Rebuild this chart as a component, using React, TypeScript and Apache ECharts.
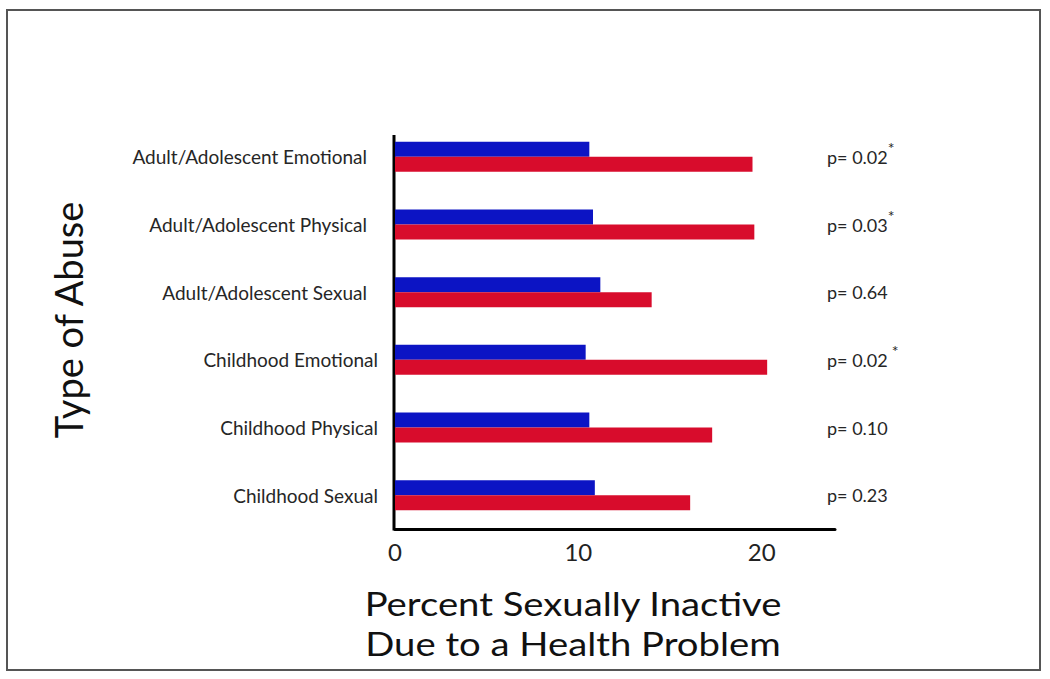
import React, { useEffect, useRef } from "react";
import * as echarts from "echarts";

const categories = [
  "Adult/Adolescent Emotional",
  "Adult/Adolescent Physical",
  "Adult/Adolescent Sexual",
  "Childhood Emotional",
  "Childhood Physical",
  "Childhood Sexual",
];
const blueValues = [10.6, 10.8, 11.2, 10.4, 10.6, 10.9];
const redValues = [19.5, 19.6, 14.0, 20.3, 17.3, 16.1];
const pValues = ["0.02", "0.03", "0.64", "0.02", "0.10", "0.23"];
const starMark = ["*", "*", "", " *", "", ""];
const xTicks = [0, 10, 20];
const xTitleLines = ["Percent Sexually Inactive", "Due to a Health Problem"];

const FONT = "Lato, 'Open Sans', sans-serif";

export default function App() {
  const ref = useRef<HTMLDivElement>(null);
  useEffect(() => {
    if (!ref.current) return;
    const chart = echarts.init(ref.current, undefined, { renderer: "svg" });
    chart.setOption({
      animation: false,
      backgroundColor: "#ffffff",
      grid: { left: 395, right: 215, top: 123, bottom: 150 },
      xAxis: {
        type: "value",
        min: 0,
        max: 24,
        interval: 10,
        axisLine: { show: true, lineStyle: { color: "#000", width: 3 } },
        axisTick: { show: false },
        splitLine: { show: false },
        axisLabel: {
          color: "#222",
          fontSize: 24,
          fontFamily: FONT,
          margin: 10,
          formatter: (v: number) => (xTicks.includes(v) ? String(v) : ""),
        },
      },
      yAxis: [
        {
          type: "category",
          data: categories,
          inverse: true,
          axisLine: { show: false },
          axisTick: { show: false },
          axisLabel: {
            margin: 17,
            formatter: (v: string) =>
              v.startsWith("Adult") ? `{a|${v}}` : `{c|${v}}`,
            rich: {
              a: { color: "#262626", fontSize: 19, fontFamily: FONT, padding: [0, 11, 0, 0] },
              c: { color: "#262626", fontSize: 19, fontFamily: FONT },
            },
          },
        },
        {
          type: "category",
          data: categories,
          inverse: true,
          position: "right",
          offset: -8,
          axisLine: { show: false },
          axisTick: { show: false },
          axisLabel: {
            margin: 0,
            formatter: (_v: string, i: number) =>
              `{p|p= ${pValues[i]}}` + (starMark[i] ? `{s|${starMark[i]}}` : ""),
            rich: {
              p: { color: "#262626", fontSize: 18, fontFamily: FONT },
              s: { color: "#262626", fontSize: 16, fontFamily: FONT, padding: [0, 0, 18, 0] },
            },
          },
        },
      ],
      series: [
        {
          type: "bar",
          data: blueValues,
          barWidth: 15,
          barGap: "0%",
          itemStyle: { color: "#0c14c4" },
        },
        {
          type: "bar",
          data: redValues,
          barWidth: 15,
          barGap: "0%",
          itemStyle: { color: "#d80c2c" },
        },
      ],
      graphic: [
        {
          type: "rect",
          shape: { x: 7, y: 10, width: 1033, height: 660 },
          style: { fill: "none", stroke: "#555", lineWidth: 2 },
          silent: true,
        },
        {
          type: "line",
          shape: { x1: 394, y1: 135, x2: 394, y2: 530.5 },
          style: { stroke: "#000", lineWidth: 3 },
          silent: true,
        },
        {
          type: "text",
          x: 68,
          y: 320,
          rotation: Math.PI / 2,
          style: {
            text: "Type of Abuse",
            fill: "#111",
            fontSize: 38,
            fontFamily: FONT,
            align: "center",
            verticalAlign: "middle",
          },
        },
        ...xTitleLines.map((line, i) => ({
          type: "text",
          x: 573,
          y: 604 + i * 40,
          scaleX: 1.16,
          style: {
            text: line,
            fill: "#111",
            fontSize: 33,
            fontFamily: FONT,
            align: "center",
            verticalAlign: "middle",
          },
        })),
      ],
    });
    return () => chart.dispose();
  }, []);
  return (
    <div
      ref={ref}
      style={{ position: "fixed", left: 0, top: 0, width: 1050, height: 679 }}
    />
  );
}
